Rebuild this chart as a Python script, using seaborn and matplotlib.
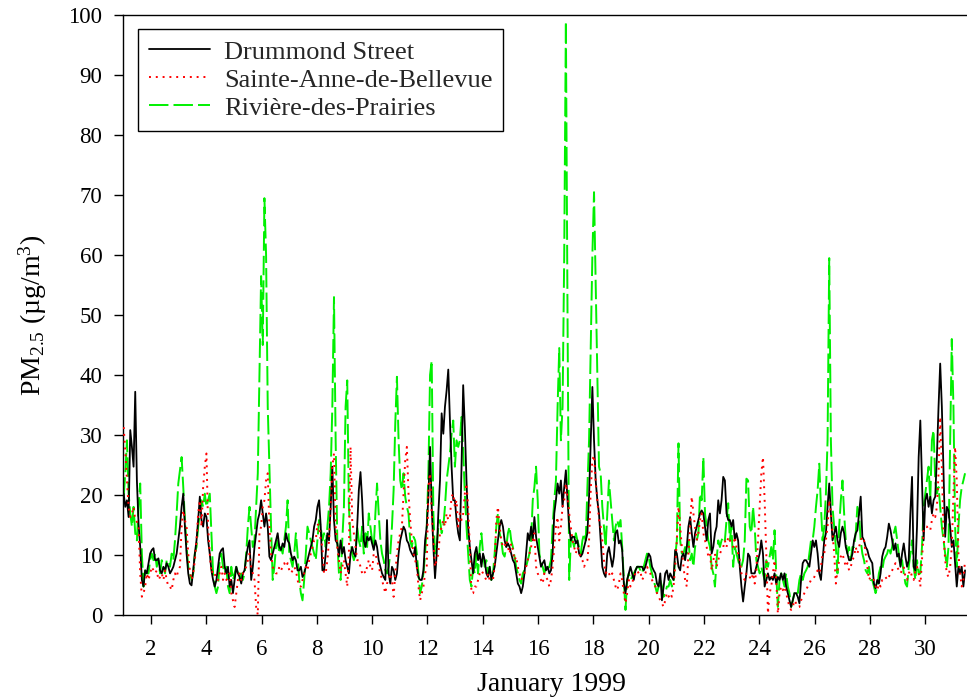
import numpy as np
import pandas as pd
import matplotlib
matplotlib.use("Agg")
import matplotlib.pyplot as plt
from matplotlib.lines import Line2D
import seaborn as sns

# PM2.5 (ug/m3) readings for January 1999, one value every STEP_H hours
drummond = [
    20.2, 18.0, 19.1, 16.3, 30.8, 28.0, 24.7, 37.2, 22.4, 15.2, 11.3, 5.8, 4.7, 7.4, 6.9, 8.6,
    10.2, 10.8, 11.1, 9.1, 9.1, 9.4, 7.4, 6.9, 8.0, 7.4, 8.6, 8.0, 6.9, 7.4, 8.0, 9.1,
    10.2, 12.4, 14.7, 18.0, 20.2, 14.7, 10.2, 6.9, 5.2, 4.9, 7.4, 10.2, 12.4, 15.8, 19.7, 15.8,
    14.7, 16.9, 16.3, 12.4, 10.2, 7.4, 5.8, 4.7, 5.8,
    8.0, 10.2, 10.8, 11.1, 8.0, 6.9, 8.0, 4.7, 5.8, 3.6, 5.8, 8.0, 6.9, 6.3, 5.2, 6.9,
    7.4, 9.7, 11.3, 12.4, 5.8, 8.0, 11.3, 13.6, 15.8, 16.9, 19.1, 16.9, 14.7, 16.9, 14.7, 9.7,
    9.1, 10.2, 11.3, 12.4, 13.6, 11.3, 10.8, 11.9, 11.3, 13.6, 12.4, 11.9, 10.2, 9.1, 9.7, 9.1,
    7.4, 7.4, 8.0, 6.3, 6.9, 8.0, 9.1, 10.2, 11.3, 12.4, 14.7, 15.8, 18.0, 19.1, 14.7, 7.4,
    7.4, 10.2, 13.6, 12.4, 18.0, 24.7, 15.8, 12.4, 11.9, 9.7, 12.4, 10.2, 11.3, 9.1, 8.0, 6.9,
    10.2, 11.3, 10.2, 9.7, 14.7, 20.8, 23.8, 19.1, 12.4, 11.3, 13.0, 12.4, 13.0, 11.9, 10.8, 12.4,
    11.3, 9.1, 8.0, 6.9, 6.3, 5.8, 15.8, 6.9, 5.2, 8.0, 7.4, 5.8, 6.9, 10.2, 12.4, 13.6,
    14.7, 14.1, 12.4, 11.9, 10.8, 10.2, 9.7, 11.3, 8.0, 6.3, 5.8, 5.8, 7.4, 12.4, 14.7, 19.7,
    28.0, 18.0, 11.3, 6.1, 10.2, 16.9, 22.4, 33.6, 30.2, 34.7, 37.4, 40.9, 32.4, 24.7, 19.1, 19.1,
    15.8, 13.6, 12.4, 24.7, 38.3, 31.3, 22.4, 14.7, 11.3, 9.1, 6.9, 10.2, 11.3, 9.1, 10.2, 8.0,
    10.2, 9.1, 6.9, 6.3, 8.0, 5.8, 6.9, 8.0, 10.2, 12.4, 14.7, 15.8, 14.7, 12.4, 11.3, 11.9,
    11.3, 10.2, 9.1, 8.6, 6.9, 5.2, 4.7, 3.6, 4.7, 6.9, 10.2, 13.6, 12.4, 14.7, 12.4, 16.3,
    13.0, 11.3, 9.7, 8.0, 8.6, 9.1, 7.4, 8.0, 6.9, 7.4, 10.2, 16.9, 19.1, 21.9, 20.2, 22.4,
    18.0, 21.3, 24.1, 19.1, 14.7, 12.4, 13.0, 13.0, 11.9, 12.4, 10.2, 9.7, 10.2, 11.3, 12.4, 13.6,
    19.7, 29.1, 38.0, 29.1, 22.4, 19.1, 16.9, 12.4, 8.0, 6.9, 6.3, 10.2, 11.3, 9.7, 8.0, 9.7,
    13.6, 14.1, 11.9, 12.4, 10.8, 5.2, 3.6, 5.8, 6.9, 8.0, 6.9, 5.8, 7.4, 8.0, 8.0, 8.0,
    8.0, 7.4, 8.0, 9.1, 10.2, 9.7, 8.0, 7.4, 6.9, 5.2, 4.7, 6.9, 2.4, 4.7, 6.9, 7.4,
    5.8, 6.9, 6.3, 5.8, 10.8, 10.2, 8.0, 7.4, 9.7, 10.2, 9.1, 11.3, 14.7, 16.3, 13.6, 11.3,
    13.6, 14.7, 15.8, 16.9, 17.4, 16.9, 14.7, 12.4, 15.8, 16.9, 10.2, 11.3, 13.6, 14.7, 19.1, 16.9,
    19.1, 23.0, 22.4, 16.9, 15.8, 15.8, 14.7, 15.8, 12.4, 13.6, 12.4, 8.0, 4.7, 2.2, 4.7, 6.9,
    10.2, 9.7, 6.9, 6.9, 6.9, 8.0, 9.1, 10.2, 12.4, 10.2, 4.7, 5.8, 6.9, 5.8, 6.3, 5.8,
    6.9, 5.2, 6.3, 5.8, 6.9, 5.8, 6.9, 4.7, 3.6, 2.4, 1.3, 2.4, 3.6, 3.6, 3.0, 1.9,
    5.8, 8.6, 9.1, 9.1, 8.6, 8.0, 10.2, 12.4, 11.3, 12.4, 10.2, 6.9, 5.8, 9.1, 12.4, 13.6,
    18.0, 21.9, 16.9, 12.4, 13.6, 14.7, 12.4, 11.3, 13.6, 14.7, 13.6, 11.3, 10.2, 9.1, 9.1, 10.2,
    12.4, 13.6, 14.1, 16.9, 19.7, 13.0, 12.4, 11.3, 10.8, 9.7, 9.1, 8.6, 5.2, 4.4, 5.8, 5.2,
    6.9, 9.7, 10.8, 11.3, 13.0, 15.2, 14.1, 12.4, 10.8, 11.9, 9.7, 10.2, 8.0, 10.2, 11.9, 9.7,
    8.0, 9.1, 16.9, 23.0, 8.0, 7.4, 14.7, 26.3, 32.4, 22.4, 12.4, 19.1, 20.2, 18.0, 19.7, 16.9,
    19.1, 19.7, 26.3, 34.7, 41.9, 34.7, 23.6, 13.0, 18.0, 17.4, 14.7, 11.3, 12.4, 8.6, 4.7, 8.0,
    6.9, 8.0, 4.7, 7.4,
]

sainte_anne = [
    31.3, 27.4, 22.4, 18.0, 16.3, 16.9, 18.0, 15.8, 15.5, 14.7, 6.9, 3.0, 3.6, 4.7, 6.9, 5.8,
    6.9, 8.0, 7.4, 6.9, 7.4, 5.8, 6.3, 6.9, 5.8, 7.4, 5.8, 4.7, 4.7, 4.1, 5.8, 6.9,
    6.3, 7.4, 8.0, 14.7, 17.4, 15.8, 14.7, 10.2, 7.4, 5.8, 6.9, 9.1, 12.4, 16.9, 19.1, 14.7,
    21.3, 24.7, 26.9, 14.7, 10.2, 6.9, 7.4, 6.9, 5.8,
    5.8, 6.9, 8.0, 5.8, 6.9, 5.8, 6.3, 6.9, 3.6, 2.4, 1.3, 3.6, 5.8, 6.9, 5.8, 6.9,
    7.4, 8.0, 9.1, 10.2, 8.0, 6.9, 5.8, 1.3, 0.0, 13.6, 14.7, 18.0, 19.1, 22.4, 23.6, 14.7,
    10.2, 8.0, 7.4, 6.9, 6.9, 8.0, 7.4, 8.0, 8.6, 8.0, 8.6, 7.4, 6.9, 7.4, 8.0, 7.4,
    5.8, 4.7, 4.7, 5.8, 6.9, 8.0, 7.4, 9.1, 10.2, 11.3, 12.4, 12.4, 15.2, 14.7, 12.4, 11.3,
    6.9, 6.9, 9.1, 12.4, 18.0, 24.7, 26.9, 14.7, 11.3, 9.1, 6.9, 8.0, 9.1, 6.9, 4.7, 10.2,
    28.0, 15.8, 13.6, 11.3, 9.1, 9.1, 8.0, 6.9, 7.4, 6.9, 8.0, 9.1, 8.0, 7.4, 10.2, 10.2,
    9.1, 8.0, 6.9, 5.8, 4.7, 3.6, 5.2, 5.8, 6.9, 5.8, 3.0, 6.9, 10.2, 12.4, 13.6, 14.7,
    20.2, 25.8, 28.0, 20.2, 15.8, 12.4, 10.2, 9.1, 8.0, 4.7, 2.4, 3.6, 4.7, 6.9, 8.0, 21.3,
    23.6, 16.9, 12.4, 8.0, 9.1, 10.2, 13.6, 14.7, 15.8, 14.7, 16.9, 15.8, 16.3, 19.7, 20.2, 18.0,
    19.1, 14.7, 16.9, 15.8, 16.9, 20.2, 21.9, 18.0, 11.3, 3.6, 3.6, 4.7, 4.7, 5.8, 6.9, 7.4,
    6.9, 6.3, 5.8, 6.9, 5.8, 5.8, 5.8, 8.0, 15.8, 18.0, 14.7, 12.4, 11.3, 11.3, 12.4, 11.3,
    10.2, 11.9, 10.8, 9.1, 9.7, 8.0, 6.9, 5.8, 6.3, 6.9, 8.0, 9.1, 10.2, 11.3, 12.4, 13.6,
    8.0, 6.9, 6.3, 5.8, 5.2, 6.9, 6.3, 5.8, 4.7, 5.8, 8.0, 11.3, 14.7, 16.3, 12.4, 14.7,
    18.0, 19.1, 21.9, 19.7, 16.9, 14.7, 12.4, 11.3, 10.2, 11.3, 10.2, 9.7, 9.1, 8.0, 8.6, 9.1,
    12.4, 20.8, 25.8, 26.6, 22.4, 19.1, 15.8, 14.7, 12.4, 9.1, 6.9, 7.4, 6.9, 6.3, 6.9, 5.8,
    4.7, 4.1, 5.2, 6.9, 5.8, 3.6, 1.9, 3.6, 5.8, 4.7, 5.2, 6.3, 6.9, 7.4, 6.9, 7.2,
    5.8, 6.3, 6.9, 8.0, 7.4, 6.9, 5.8, 5.2, 4.7, 3.6, 3.0, 2.4, 1.9, 1.3, 2.4, 3.6,
    3.0, 3.6, 3.0, 4.7, 8.0, 12.4, 18.0, 14.7, 11.3, 8.0, 5.8, 4.7, 10.2, 14.7, 19.7, 16.9,
    14.7, 12.4, 13.6, 15.8, 16.9, 13.6, 12.4, 11.3, 9.7, 10.2, 7.4, 9.1, 10.2, 8.0, 9.1, 10.2,
    10.8, 11.3, 12.4, 11.3, 13.0, 12.4, 11.9, 11.3, 13.0, 11.3, 10.2, 9.1, 6.9, 6.3, 5.8, 6.9,
    6.9, 6.3, 5.8, 6.9, 5.2, 7.4, 12.4, 18.0, 23.6, 26.3, 19.1, 10.2, 0.2, 3.6, 4.7, 6.9,
    9.1, 5.8, 0.2, 3.6, 4.7, 4.1, 4.7, 3.6, 2.4, 1.3, 0.8, 1.3, 2.4, 1.9, 1.3, 1.3,
    2.4, 3.0, 3.6, 4.1, 4.7, 5.2, 5.8, 5.8, 6.3, 6.9, 7.4, 6.9, 8.0, 10.2, 10.2, 12.4,
    14.7, 19.1, 16.9, 13.6, 10.2, 5.2, 7.4, 9.1, 9.7, 10.2, 9.1, 8.0, 8.6, 7.4, 8.0, 9.1,
    9.7, 11.3, 10.2, 11.3, 12.4, 13.0, 12.4, 10.2, 8.0, 5.8, 6.3, 5.8, 5.8, 4.7, 4.1, 5.2,
    4.7, 5.8, 5.8, 6.3, 5.8, 6.3, 6.9, 7.4, 8.0, 8.6, 8.0, 7.4, 6.9, 7.4, 8.0, 6.3,
    5.8, 6.9, 7.4, 6.3, 5.8, 7.4, 8.0, 6.9, 4.7, 9.1, 14.1, 14.7, 14.7, 14.1, 14.1, 15.8,
    16.9, 16.3, 18.0, 23.6, 33.0, 24.7, 13.6, 9.1, 6.9, 6.3, 8.0, 11.3, 20.2, 28.0, 22.4, 10.2,
    6.9, 4.7, 5.8, 9.1,
]

riviere = [
    19.7, 23.6, 29.1, 20.2, 16.9, 14.7, 18.0, 13.6, 12.4, 18.0, 21.9, 10.2, 4.7, 7.4, 6.9, 6.9,
    9.1, 10.2, 9.1, 10.2, 8.0, 9.1, 6.9, 9.1, 8.0, 6.9, 9.1, 9.1, 8.0, 10.2, 9.1, 12.4,
    16.9, 21.9, 24.1, 26.3, 21.3, 15.8, 11.3, 8.0, 6.9, 5.8, 6.9, 10.2, 11.3, 14.7, 16.9, 19.1,
    18.0, 20.2, 18.0, 19.1, 20.2, 13.6, 6.9, 4.7, 3.6,
    4.7, 9.1, 10.2, 8.0, 6.9, 8.0, 4.7, 3.6, 8.0, 5.8, 6.9, 8.0, 6.9, 5.8, 6.9, 5.8,
    6.9, 10.2, 14.7, 18.0, 14.7, 11.3, 12.4, 18.0, 23.6, 40.0, 56.5, 45.0, 69.5, 60.0, 34.7, 24.7,
    14.7, 5.8, 8.0, 11.3, 12.4, 10.2, 11.3, 10.2, 12.4, 14.7, 19.1, 10.2, 9.1, 8.0, 10.2, 13.6,
    10.2, 5.8, 3.6, 2.4, 5.8, 10.2, 14.7, 13.6, 12.4, 11.3, 10.2, 9.1, 12.4, 15.8, 14.7, 12.4,
    13.6, 11.3, 14.7, 18.0, 23.6, 34.7, 53.0, 29.1, 12.4, 6.9, 5.8, 12.4, 18.0, 34.7, 39.1, 18.0,
    12.4, 10.2, 9.1, 10.2, 14.7, 12.4, 11.3, 14.7, 10.2, 13.6, 11.3, 16.9, 14.7, 12.4, 11.3, 16.9,
    21.9, 16.9, 12.4, 10.2, 9.1, 7.4, 6.9, 8.0, 10.2, 14.7, 20.8, 31.9, 39.7, 29.1, 22.4, 20.8,
    23.6, 19.7, 18.0, 16.9, 12.4, 11.3, 13.0, 12.4, 10.2, 6.9, 3.6, 4.7, 6.9, 10.2, 14.7, 23.6,
    40.0, 42.4, 16.9, 10.2, 11.3, 14.7, 15.8, 13.6, 14.7, 18.0, 22.4, 24.7, 26.9, 30.2, 32.4, 24.7,
    29.1, 28.0, 29.1, 33.0, 27.4, 20.2, 14.7, 10.2, 5.8, 4.7, 8.0, 6.9, 10.2, 6.9, 11.3, 13.6,
    10.2, 8.0, 9.1, 6.9, 8.0, 5.8, 6.9, 10.2, 14.7, 16.9, 13.6, 12.4, 10.2, 9.7, 11.3, 13.6,
    14.7, 12.4, 11.3, 9.7, 8.0, 6.9, 5.8, 5.2, 6.9, 7.4, 8.0, 9.1, 10.2, 12.4, 19.1, 21.3,
    24.7, 19.1, 10.2, 8.6, 8.0, 6.9, 8.0, 7.4, 8.0, 9.1, 14.7, 19.1, 22.4, 34.7, 44.5, 29.1,
    34.7, 60.0, 99.0, 50.0, 5.8, 12.4, 12.4, 11.3, 13.6, 12.4, 11.3, 10.2, 12.4, 13.6, 12.4, 21.3,
    29.1, 45.0, 60.0, 70.5, 55.0, 40.0, 24.7, 23.6, 18.0, 14.7, 11.3, 16.9, 22.4, 19.1, 15.8, 12.4,
    14.7, 15.8, 14.7, 15.8, 11.3, 5.8, 0.8, 5.8, 6.9, 5.8, 6.3, 6.9, 7.4, 8.0, 8.0, 7.4,
    6.9, 8.0, 9.1, 10.2, 9.7, 8.0, 6.9, 5.8, 4.7, 3.6, 4.7, 5.8, 4.7, 3.0, 3.6, 4.7,
    4.7, 5.8, 4.7, 5.2, 9.7, 12.4, 28.6, 12.4, 10.2, 10.2, 11.3, 10.2, 12.4, 9.1, 10.2, 8.0,
    11.3, 12.4, 13.6, 20.2, 19.1, 26.3, 16.9, 14.7, 12.4, 11.3, 8.0, 6.9, 4.7, 9.1, 12.4, 11.3,
    12.4, 13.0, 12.4, 15.8, 18.6, 12.4, 14.7, 8.0, 11.3, 10.2, 9.1, 8.0, 8.0, 9.1, 12.4, 22.7,
    22.4, 14.7, 13.6, 18.0, 14.7, 9.1, 8.0, 6.9, 8.0, 6.9, 5.8, 9.1, 8.0, 9.7, 11.3, 9.1,
    14.1, 6.9, 1.3, 5.8, 6.9, 5.8, 4.7, 6.9, 4.7, 3.6, 1.3, 2.4, 3.6, 4.1, 3.6, 5.8,
    6.9, 5.8, 6.9, 7.4, 8.0, 10.2, 12.4, 12.4, 14.7, 18.0, 20.8, 25.2, 18.0, 12.4, 14.7, 20.2,
    29.1, 59.5, 29.1, 18.0, 14.7, 11.3, 6.9, 14.7, 19.1, 22.4, 16.9, 12.4, 10.2, 11.3, 9.1, 11.3,
    11.3, 13.6, 18.0, 16.9, 12.4, 10.2, 9.1, 7.4, 6.9, 8.0, 5.8, 5.8, 4.7, 3.6, 4.7, 6.9,
    8.0, 7.4, 9.1, 9.7, 10.2, 11.3, 10.2, 11.3, 13.6, 14.7, 12.4, 10.2, 8.0, 9.1, 6.9, 5.2,
    4.7, 8.0, 10.2, 12.4, 8.0, 5.8, 9.1, 6.9, 6.9, 11.3, 18.0, 20.2, 22.4, 24.7, 19.1, 29.1,
    30.8, 22.4, 20.2, 21.3, 18.0, 14.7, 12.4, 10.2, 8.0, 11.3, 29.1, 46.0, 34.7, 14.7, 8.0, 14.7,
    19.1, 21.3, 22.4, 23.6,
]

station_names = ["Drummond Street", "Sainte-Anne-de-Bellevue", "Rivière-des-Prairies"]
x_ticks = list(range(2, 31, 2))
y_ticks = list(range(0, 101, 10))

START_H = 0.3      # first reading, hours after 1 January 00:00
STEP_H = 1.4375    # hours between readings


def to_frame(values, name):
    hours = START_H + STEP_H * np.arange(len(values))
    return pd.DataFrame({"day": 1 + hours / 24.0, "pm25": values, "station": name})


sns.set_theme(style="ticks")
plt.rcParams["font.family"] = ["Liberation Serif", "DejaVu Serif"]
plt.rcParams["mathtext.fontset"] = "custom"
plt.rcParams["mathtext.rm"] = "Liberation Serif"
plt.rcParams["mathtext.it"] = "Liberation Serif:italic"

fig = plt.figure(figsize=(9.67, 6.98), dpi=100)
ax = fig.add_axes([0.1275, 0.1193, 0.8865, 0.8587])

styles = {
    "Drummond Street": dict(color="black", linestyle="-", lw=1.3, zorder=3),
    "Sainte-Anne-de-Bellevue": dict(color="#ff0000", linestyle=(0, (1.0, 2.5)), lw=1.4, zorder=4),
    "Rivière-des-Prairies": dict(color="#00f000", linestyle=(0, (10.0, 2.6)), lw=1.4, zorder=2),
}

series = [drummond, sainte_anne, riviere]
for name, values in zip(station_names, series):
    df = to_frame(values, name)
    sns.lineplot(data=df, x="day", y="pm25", ax=ax, legend=False,
                 estimator=None, sort=False, **styles[name])

ax.set_xlim(1, 32)
ax.set_ylim(0, 100)
ax.set_xticks(x_ticks)
ax.set_yticks(y_ticks)
ax.tick_params(axis="both", direction="out", length=6.5, width=1.0,
               labelsize=16.5, colors="black")
ax.tick_params(axis="x", pad=11)
ax.tick_params(axis="y", pad=8.5)
for side in ["left", "bottom", "top"]:
    ax.spines[side].set_visible(True)
    ax.spines[side].set_color("black")
    ax.spines[side].set_linewidth(1.0)
ax.spines["right"].set_visible(False)

ax.set_xlabel("January 1999", fontsize=20, color="black", labelpad=8.5)
ax.set_ylabel(r"PM$_{2.5}$ (µg/m$^{3}$)", fontsize=20, color="black", labelpad=14)

handles = [Line2D([], [], **{k: v for k, v in styles[n].items() if k != "zorder"})
           for n in station_names]
leg = ax.legend(handles, station_names, loc="upper left",
                bbox_to_anchor=(0.0172, 0.977), borderaxespad=0,
                frameon=True, fancybox=False, edgecolor="black", framealpha=1,
                fontsize=19, handlelength=2.3, handletextpad=0.53,
                borderpad=0.42, labelspacing=0.17)
leg.get_frame().set_linewidth(1.0)

fig.savefig("out.png", dpi=100)
